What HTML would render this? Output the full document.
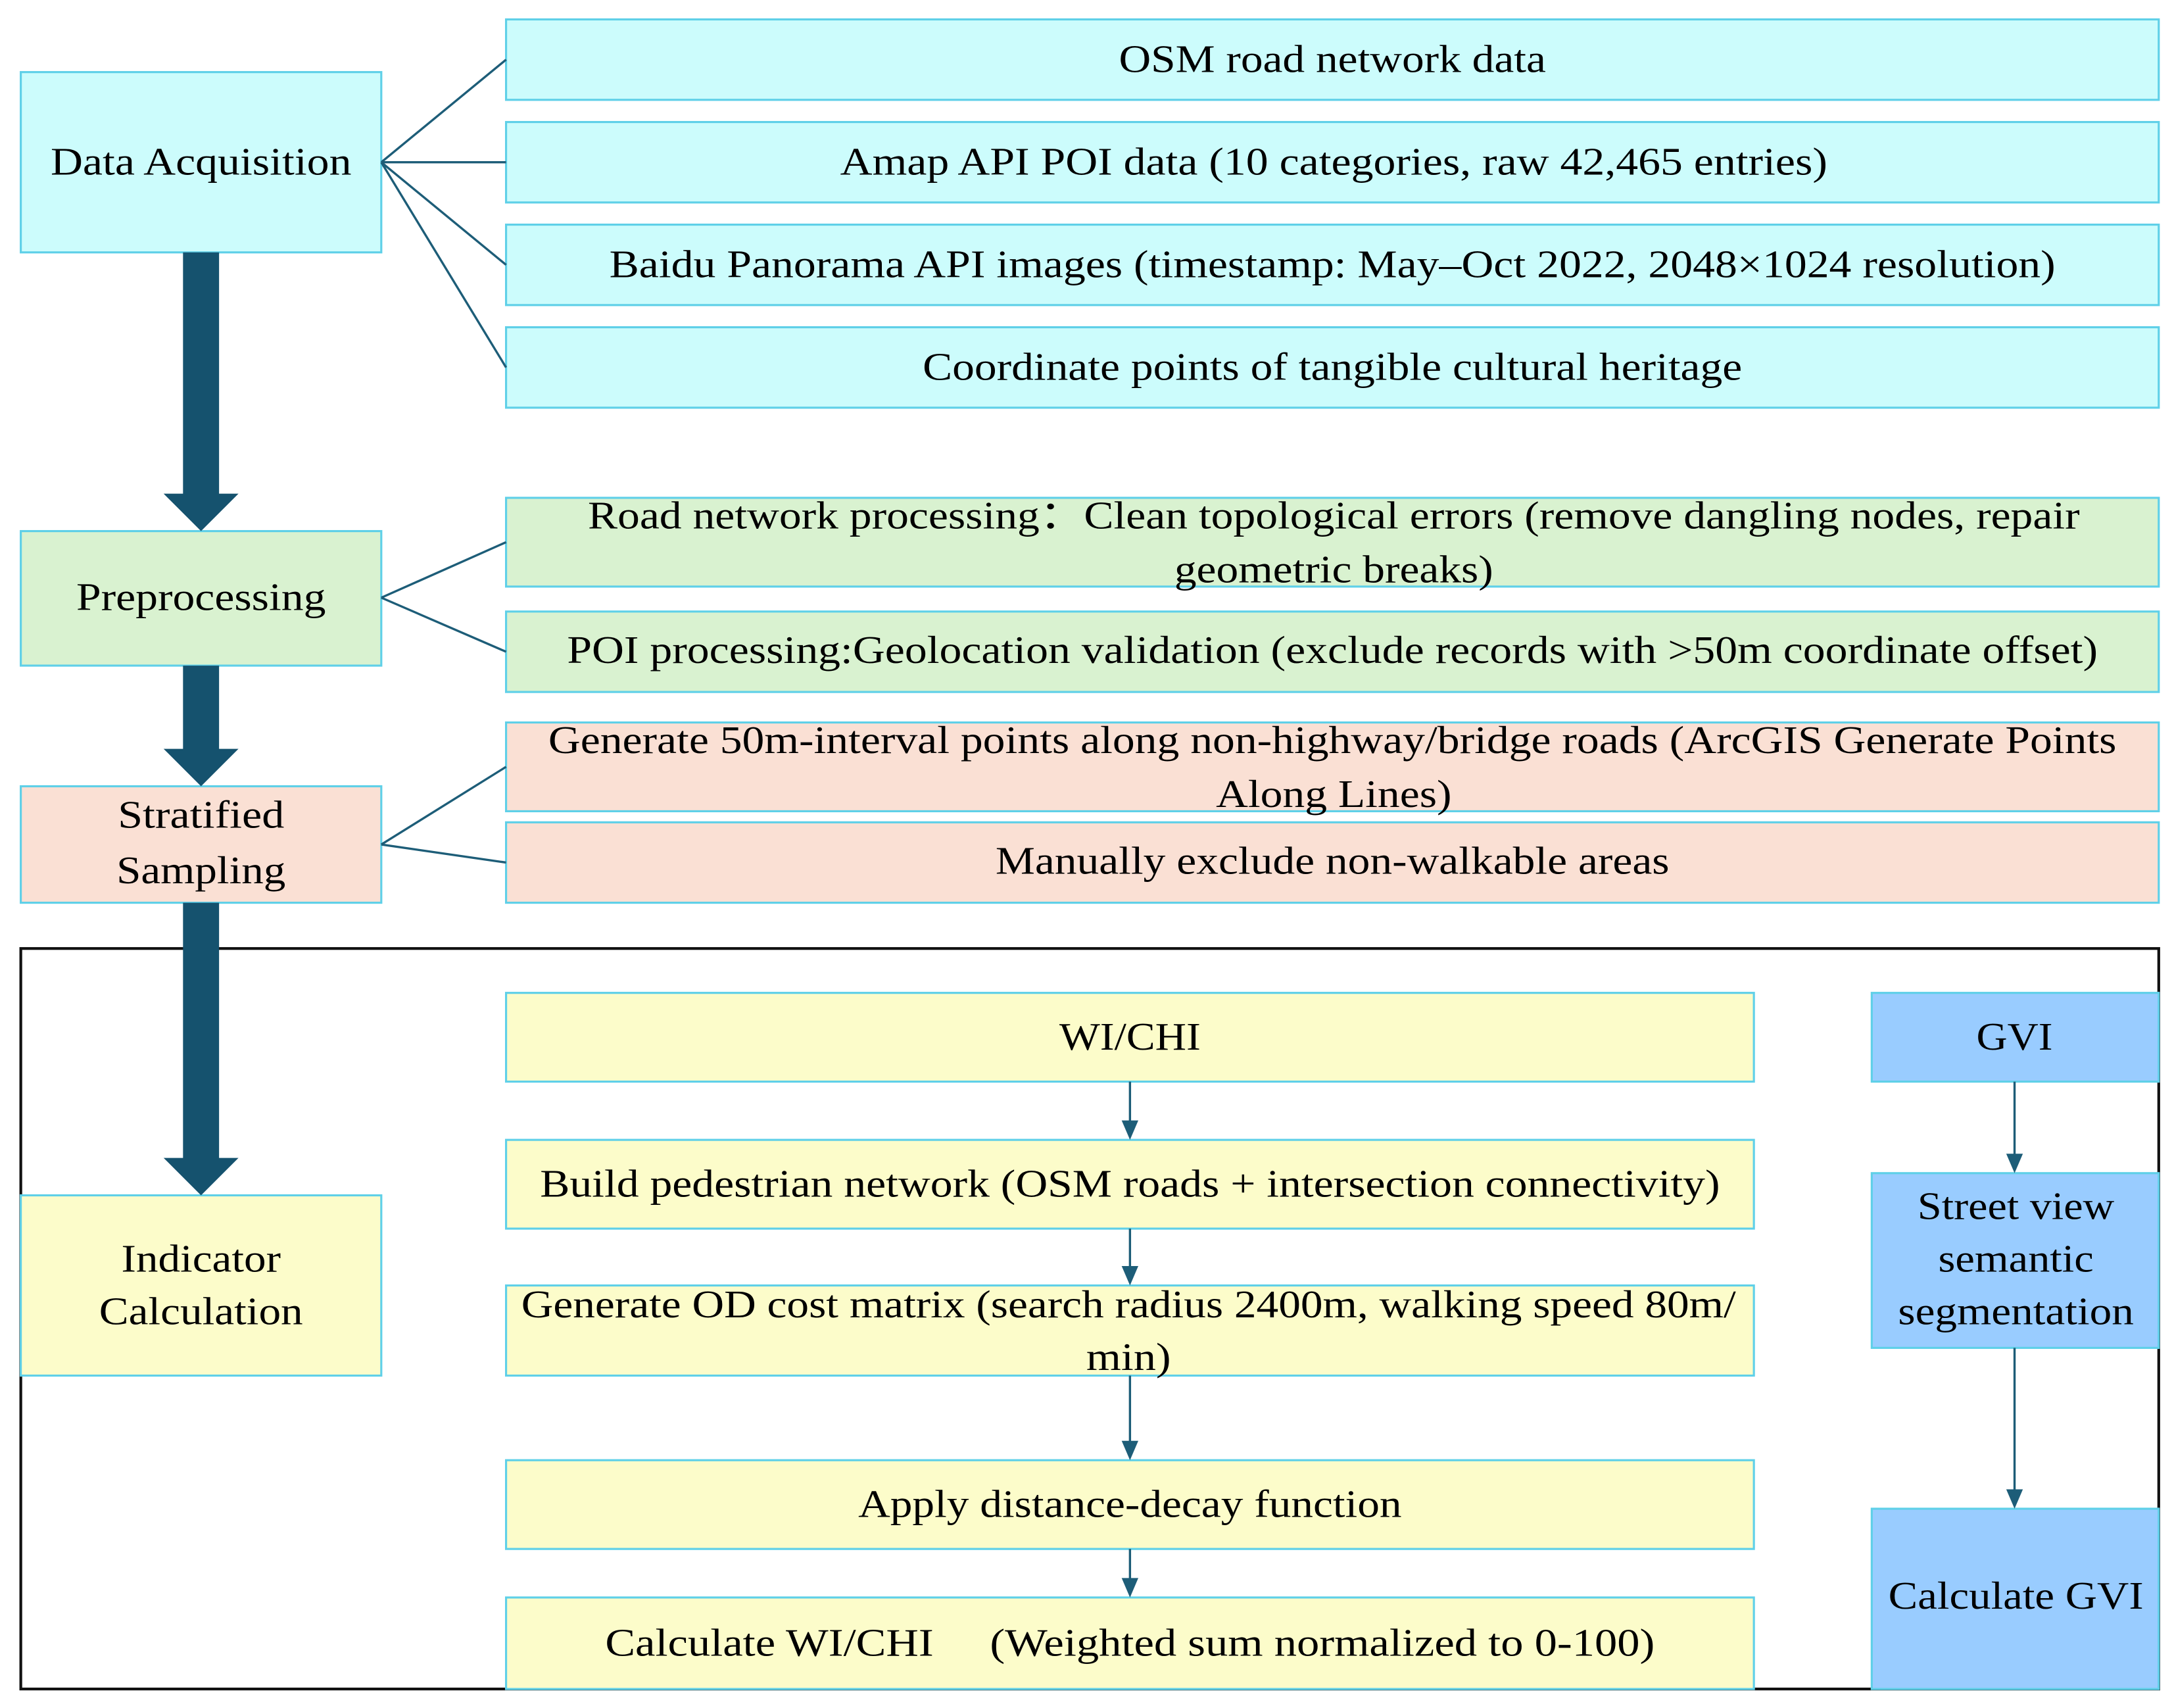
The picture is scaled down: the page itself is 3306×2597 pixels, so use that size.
<!DOCTYPE html>
<html><head><meta charset="utf-8"><style>
html,body{margin:0;padding:0;background:#fff;}
svg{display:block;}
text{font-family:"Liberation Serif","Times New Roman",serif;font-size:28px;fill:#000;text-anchor:middle;}
</style></head><body>
<svg width="3306" height="2597" viewBox="0 0 1568 1231.7" preserveAspectRatio="none" xmlns="http://www.w3.org/2000/svg">
<g stroke="#5fd0e8" stroke-width="1.5">
<rect x="15" y="52" width="260" height="130" fill="#ccfcfc"/>
<rect x="365" y="14" width="1192" height="58" fill="#ccfcfc"/>
<rect x="365" y="88" width="1192" height="58" fill="#ccfcfc"/>
<rect x="365" y="162" width="1192" height="58" fill="#ccfcfc"/>
<rect x="365" y="236" width="1192" height="58" fill="#ccfcfc"/>
<rect x="15" y="383" width="260" height="97" fill="#d9f2d0"/>
<rect x="365" y="359" width="1192" height="64" fill="#d9f2d0"/>
<rect x="365" y="441" width="1192" height="58" fill="#d9f2d0"/>
<rect x="15" y="567" width="260" height="84" fill="#fae0d4"/>
<rect x="365" y="521" width="1192" height="64" fill="#fae0d4"/>
<rect x="365" y="593" width="1192" height="58" fill="#fae0d4"/>
</g>
<rect x="15" y="684" width="1542" height="534" fill="none" stroke="#111" stroke-width="2"/>
<g stroke="#5fd0e8" stroke-width="1.5">
<rect x="15" y="862" width="260" height="130" fill="#fcfcca"/>
<rect x="365" y="716" width="900" height="64" fill="#fcfcca"/>
<rect x="365" y="822" width="900" height="64" fill="#fcfcca"/>
<rect x="365" y="927" width="900" height="65" fill="#fcfcca"/>
<rect x="365" y="1053" width="900" height="64" fill="#fcfcca"/>
<rect x="365" y="1152" width="900" height="66" fill="#fcfcca"/>
<rect x="1350" y="716" width="207" height="64" fill="#99ccff"/>
<rect x="1350" y="846" width="207" height="126" fill="#99ccff"/>
<rect x="1350" y="1088" width="207" height="130" fill="#99ccff"/>
</g>
<g stroke="#1d5d78" stroke-width="1.6" fill="none">
<path d="M275 117 L365 43 M275 117 L365 117 M275 117 L365 191 M275 117 L365 265"/>
<path d="M275 431 L365 391 M275 431 L365 470"/>
<path d="M275 609 L365 553 M275 609 L365 622"/>
<path d="M815 780 V810 M815 886 V915 M815 992 V1040 M815 1117 V1140 M1453 780 V834 M1453 972 V1076"/>
</g>
<g fill="#1d5d78">
<path d="M809 808 H821 L815 822 Z M809 913 H821 L815 927 Z M809 1039 H821 L815 1053 Z M809 1138 H821 L815 1152 Z M1447 832 H1459 L1453 846 Z M1447 1074 H1459 L1453 1088 Z"/>
</g>
<g fill="#15526e">
<path d="M132 182 H158 V356 H172 L145 383 L118 356 H132 Z"/>
<path d="M132 480 H158 V540 H172 L145 567 L118 540 H132 Z"/>
<path d="M132 651 H158 V835 H172 L145 862 L118 835 H132 Z"/>
</g>
<text x="145" y="126" textLength="217" lengthAdjust="spacingAndGlyphs">Data Acquisition</text>
<text x="961" y="52" textLength="308" lengthAdjust="spacingAndGlyphs">OSM road network data</text>
<text x="962" y="126" textLength="712" lengthAdjust="spacingAndGlyphs">Amap API POI data (10 categories, raw 42,465 entries)</text>
<text x="961" y="200" textLength="1043" lengthAdjust="spacingAndGlyphs">Baidu Panorama API images (timestamp: May–Oct 2022, 2048×1024 resolution)</text>
<text x="961" y="274" textLength="591" lengthAdjust="spacingAndGlyphs">Coordinate points of tangible cultural heritage</text>
<text x="145" y="440" textLength="180" lengthAdjust="spacingAndGlyphs">Preprocessing</text>
<text x="962" y="381" textLength="1076" lengthAdjust="spacingAndGlyphs">Road network processing：Clean topological errors (remove dangling nodes, repair</text>
<text x="962" y="420" textLength="230" lengthAdjust="spacingAndGlyphs">geometric breaks)</text>
<text x="961" y="478" textLength="1104" lengthAdjust="spacingAndGlyphs">POI processing:Geolocation validation (exclude records with &gt;50m coordinate offset)</text>
<text x="145" y="597" textLength="120" lengthAdjust="spacingAndGlyphs">Stratified</text>
<text x="145" y="637" textLength="122" lengthAdjust="spacingAndGlyphs">Sampling</text>
<text x="961" y="543" textLength="1131" lengthAdjust="spacingAndGlyphs">Generate 50m-interval points along non-highway/bridge roads (ArcGIS Generate Points</text>
<text x="962" y="582" textLength="170" lengthAdjust="spacingAndGlyphs">Along Lines)</text>
<text x="961" y="630" textLength="486" lengthAdjust="spacingAndGlyphs">Manually exclude non-walkable areas</text>
<text x="815" y="757" textLength="102" lengthAdjust="spacingAndGlyphs">WI/CHI</text>
<text x="815" y="863" textLength="851" lengthAdjust="spacingAndGlyphs">Build pedestrian network (OSM roads + intersection connectivity)</text>
<text x="814" y="950" textLength="876" lengthAdjust="spacingAndGlyphs">Generate OD cost matrix (search radius 2400m, walking speed 80m/</text>
<text x="814" y="988" textLength="61" lengthAdjust="spacingAndGlyphs">min)</text>
<text x="815" y="1094" textLength="392" lengthAdjust="spacingAndGlyphs">Apply distance-decay function</text>
<text x="815" y="1194" textLength="757" lengthAdjust="spacingAndGlyphs" xml:space="preserve">Calculate WI/CHI     (Weighted sum normalized to 0-100)</text>
<text x="145" y="917" textLength="115" lengthAdjust="spacingAndGlyphs">Indicator</text>
<text x="145" y="955" textLength="147" lengthAdjust="spacingAndGlyphs">Calculation</text>
<text x="1453" y="757" textLength="55" lengthAdjust="spacingAndGlyphs">GVI</text>
<text x="1454" y="879" textLength="142" lengthAdjust="spacingAndGlyphs">Street view</text>
<text x="1454" y="917" textLength="112" lengthAdjust="spacingAndGlyphs">semantic</text>
<text x="1454" y="955" textLength="170" lengthAdjust="spacingAndGlyphs">segmentation</text>
<text x="1454" y="1160" textLength="184" lengthAdjust="spacingAndGlyphs">Calculate GVI</text>
</svg>
</body></html>
